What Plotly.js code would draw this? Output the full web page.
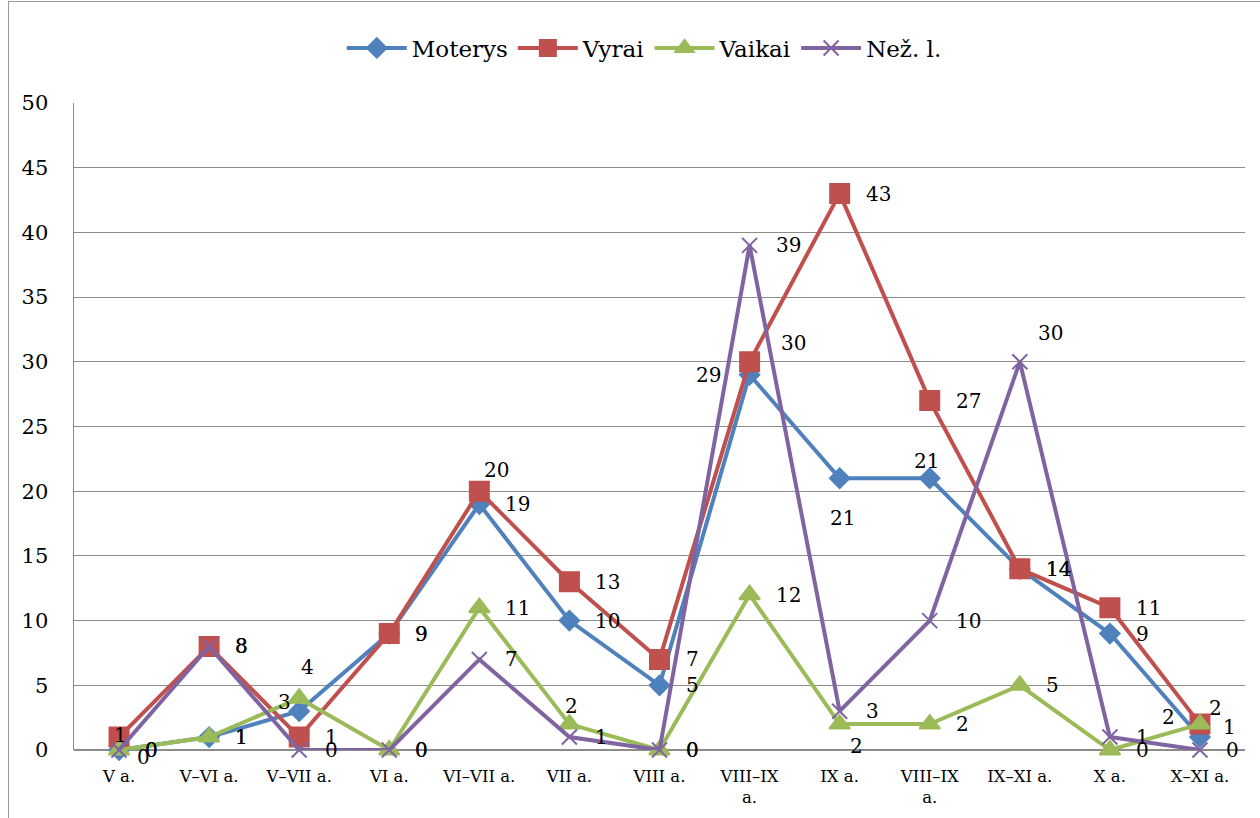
<!DOCTYPE html>
<html><head><meta charset="utf-8">
<script src="https://cdn.plot.ly/plotly-3.0.1.min.js"></script>
<style>
html,body{margin:0;padding:0;background:#fff;}
#frame{position:absolute;left:8px;top:1px;width:1260px;height:830px;border:1px solid #9a9a9a;box-sizing:border-box;}
#chart{position:absolute;left:0;top:0;width:1260px;height:818px;}
</style></head>
<body><div id="frame"></div><div id="chart"></div>
<script>
const categories = ["V a.","V–VI a.","V–VII a.","VI a.","VI–VII a.","VII a.","VIII a.","VIII–IX<br>a.","IX a.","VIII–IX<br>a.","IX–XI a.","X a.","X–XI a."];
const moterys = [0,1,3,9,19,10,5,29,21,21,14,9,1];
const vyrai   = [1,8,1,9,20,13,7,30,43,27,14,11,2];
const vaikai  = [0,1,4,0,11,2,0,12,2,2,5,0,2];
const nezl    = [0,8,0,0,7,1,0,39,3,10,30,1,0];
const seriesNames = ["Moterys","Vyrai","Vaikai","Než. l."];

// label placement tweaks (pixels, centre of label relative to point): [series, index, dx, dy]
const labelTweaks = [
  [0,0,24,-7],[0,2,-15,9],[0,7,-41,0],[0,8,3,-40],[0,9,-3,17],[0,12,30,10],
  [1,0,1,2],[1,4,17,21],[1,7,44,19],[1,12,16,16],
  [2,2,8,31],[2,5,2,18],[2,8,17,-22],[2,12,-31,7],
  [3,10,31,29]
];

const FONT = "DejaVu Serif";
const idx = categories.map((c,i)=>i);
const colors = ["#4F81BD","#C0504D","#9BBB59","#8064A2"];
const symbols = ["diamond","square","triangle-up","x-thin-open"];
const sizes = [15,19,18,15];
const allSeries = [moterys,vyrai,vaikai,nezl];
const data = allSeries.map((v,k)=>({
  x: idx, y: v, name: seriesNames[k], type:"scatter",
  mode:"lines+markers",
  line:{color:colors[k], width:4},
  marker:{symbol:symbols[k], size:sizes[k], color:colors[k], line:{color:colors[k], width:2}},
  cliponaxis:false
}));

const annotations = [];
allSeries.forEach((v,k)=>{
  v.forEach((val,i)=>{
    const t = labelTweaks.find(a=>a[0]===k && a[1]===i);
    const a = {x:i, y:val, xref:"x", yref:"y", text:String(val), showarrow:false,
      font:{family:FONT, size:20, color:"#000"}, yanchor:"middle"};
    if(t){ a.xanchor="center"; a.xshift=t[2]; a.yshift=t[3]; }
    else { a.xanchor="left"; a.xshift=24; a.yshift=0; }
    annotations.push(a);
  });
});

const layout = {
  width:1260, height:818,
  margin:{l:74, r:15, t:103, b:68},
  paper_bgcolor:"rgba(0,0,0,0)", plot_bgcolor:"rgba(0,0,0,0)",
  font:{family:FONT, color:"#000"},
  showlegend:true,
  legend:{orientation:"h", x:0.487, xanchor:"center", y:1.085, yanchor:"middle",
          font:{size:23, family:FONT}, itemwidth:60, traceorder:"normal"},
  annotations: annotations,
  xaxis:{range:[-0.5,12.5], tickmode:"array", tickvals:idx, ticktext:categories,
         showgrid:false, zeroline:false, showline:false, ticks:"",
         tickfont:{size:16.5, family:FONT}, ticklabelstandoff:14, fixedrange:true},
  yaxis:{range:[0,50], dtick:5, showgrid:true, gridcolor:"#8c8c8c", gridwidth:1,
         zeroline:true, zerolinecolor:"#8c8c8c", zerolinewidth:1.5,
         showline:true, linecolor:"#8c8c8c", linewidth:1.5, ticks:"",
         tickfont:{size:21, family:FONT}, ticklabelstandoff:20}
};
Plotly.newPlot("chart", data, layout, {displayModeBar:false, staticPlot:true});
</script></body></html>
